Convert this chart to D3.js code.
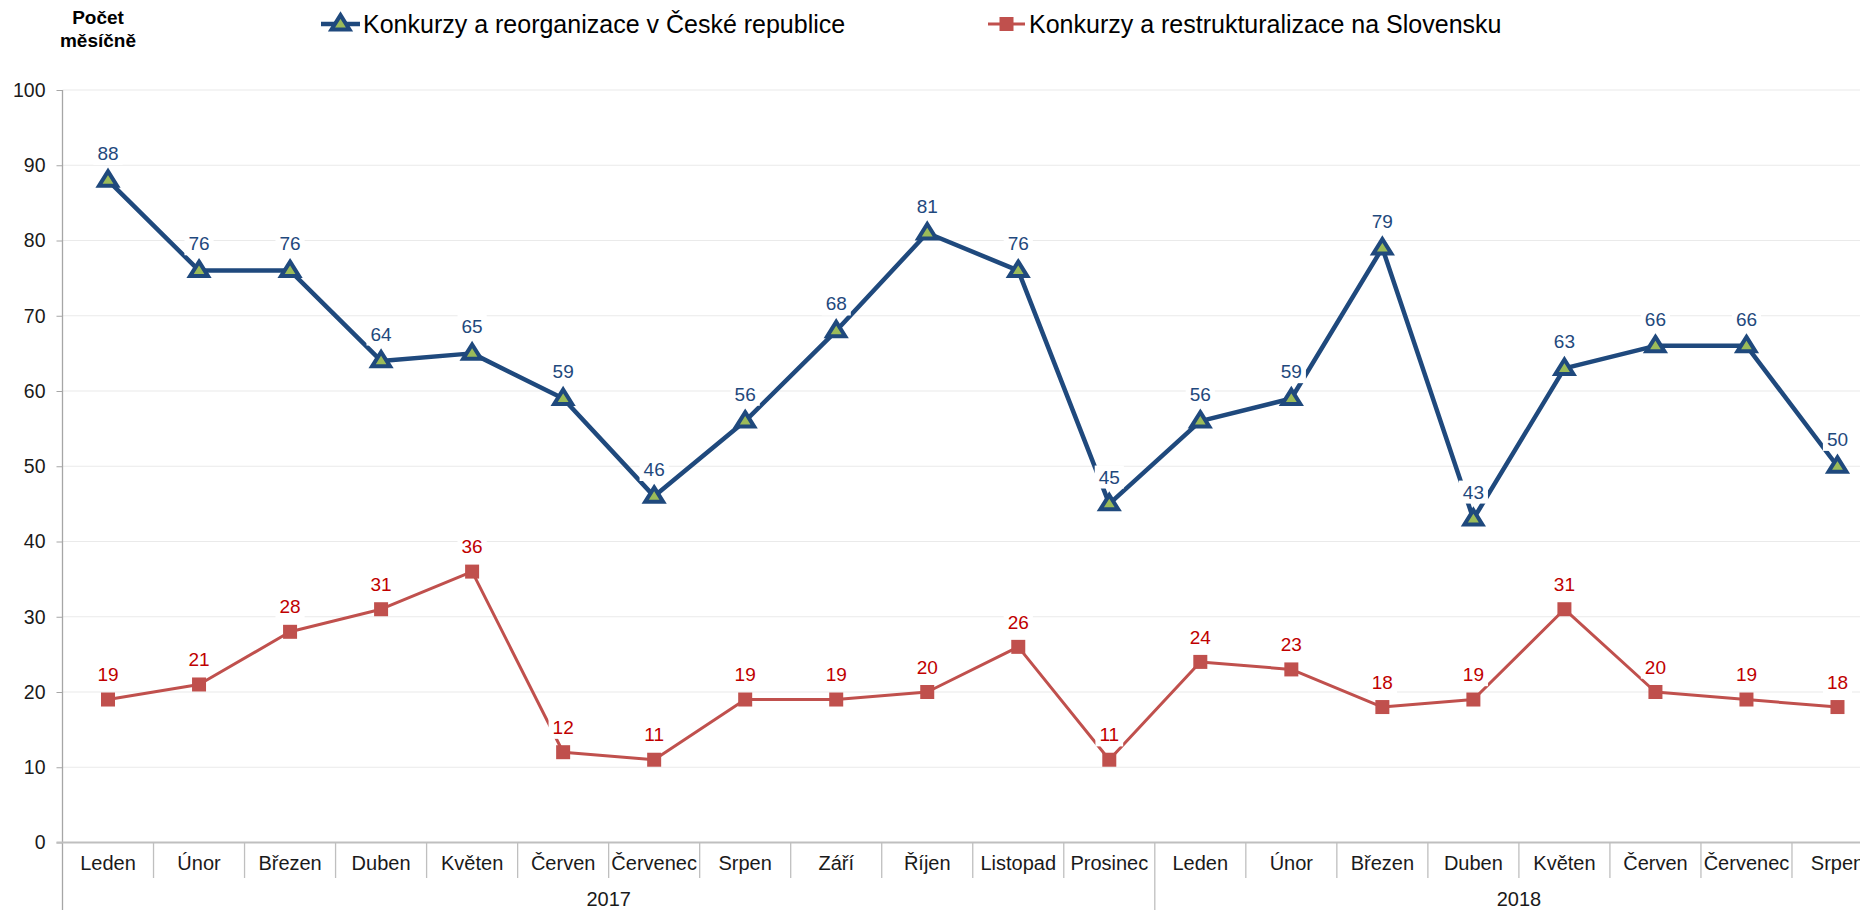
<!DOCTYPE html>
<html>
<head>
<meta charset="utf-8">
<script src="https://cdn.jsdelivr.net/npm/d3@7"></script>
<style>
  html, body { margin: 0; padding: 0; background: #fff; overflow: hidden; }
  svg { display: block; font-family: "Liberation Sans", Arial, sans-serif; }
</style>
</head>
<body>
<svg id="chart" width="1860" height="910"></svg>
<script>
const months = ["Leden","Únor","Březen","Duben","Květen","Červen","Červenec","Srpen","Září","Říjen","Listopad","Prosinec",
                "Leden","Únor","Březen","Duben","Květen","Červen","Červenec","Srpen"];
const years = [{label: "2017", count: 12}, {label: "2018", count: 8}];
const czValues = [88,76,76,64,65,59,46,56,68,81,76,45, 56,59,79,43,63,66,66,50];
const skValues = [19,21,28,31,36,12,11,19,19,20,26,11, 24,23,18,19,31,20,19,18];
const yTicks = [0,10,20,30,40,50,60,70,80,90,100];
const czName = "Konkurzy a reorganizace v České republice";
const skName = "Konkurzy a restrukturalizace na Slovensku";
const yTitle = ["Počet", "měsíčně"];

(function () {
const blue = "#1F497D", green = "#9BBB59", red = "#C0504D", redText = "#C00000";
const svg = d3.select("#chart");
const pLeft = 62.5, pRight = 1883, pTop = 90, pBottom = 842.5;
const idx = months.map((m, i) => i);

const x = d3.scaleBand().domain(idx).range([pLeft, pRight]).padding(0);
const y = d3.scaleLinear().domain([0, 100]).range([pBottom, pTop]);
const cx = i => x(i) + x.bandwidth() / 2;

// gridlines
svg.append("g").selectAll("line").data(yTicks.filter(d => d > 0)).join("line")
  .attr("x1", pLeft).attr("x2", 1860).attr("y1", d => y(d)).attr("y2", d => y(d))
  .attr("stroke", "#EAEAEA").attr("stroke-width", 1.2);

// y axis
const yAxis = d3.axisLeft(y).tickValues(yTicks).tickSize(6).tickPadding(11);
const gy = svg.append("g").attr("transform", `translate(${pLeft},0)`).call(yAxis);
gy.select(".domain").remove();
gy.selectAll(".tick line").attr("stroke", "#A6A6A6");
gy.selectAll(".tick text").attr("font-size", 19.5).attr("fill", "#1a1a1a")
  .attr("font-family", "Liberation Sans, Arial, sans-serif");
svg.append("line").attr("x1", pLeft).attr("x2", pLeft).attr("y1", pTop).attr("y2", 910)
  .attr("stroke", "#A6A6A6").attr("stroke-width", 1.3);

// x axis baseline
svg.append("line").attr("x1", pLeft - 6).attr("x2", 1860).attr("y1", pBottom).attr("y2", pBottom)
  .attr("stroke", "#BFBFBF").attr("stroke-width", 2);

// month labels
const xAxis = d3.axisBottom(x).tickFormat(i => months[i]).tickSize(0).tickPadding(13);
const gx = svg.append("g").attr("transform", `translate(0,${pBottom})`).call(xAxis);
gx.select(".domain").remove();
gx.selectAll(".tick text").attr("font-size", 20).attr("fill", "#1a1a1a")
  .attr("font-family", "Liberation Sans, Arial, sans-serif");

// separators
let yearStarts = [], acc = 0;
years.forEach(yr => { yearStarts.push(acc); acc += yr.count; });
svg.append("g").selectAll("line").data(idx.slice(1)).join("line")
  .attr("x1", i => x(i)).attr("x2", i => x(i))
  .attr("y1", pBottom).attr("y2", i => yearStarts.includes(i) ? 910 : 878)
  .attr("stroke", "#BFBFBF").attr("stroke-width", 1.3);

// year labels
svg.append("g").selectAll("text").data(years).join("text")
  .attr("x", (d, k) => {
    const s = yearStarts[k], e = s + d.count;
    return (x(s) + (e < months.length ? x(e) : pRight)) / 2;
  })
  .attr("y", 906).attr("text-anchor", "middle").attr("font-size", 20).attr("fill", "#1a1a1a")
  .text(d => d.label);

// lines
const lineGen = vals => d3.line().x((d, i) => cx(i)).y(d => y(d))(vals);
svg.append("path").attr("d", lineGen(skValues)).attr("fill", "none")
  .attr("stroke", red).attr("stroke-width", 3).attr("stroke-linejoin", "round");
svg.append("path").attr("d", lineGen(czValues)).attr("fill", "none")
  .attr("stroke", blue).attr("stroke-width", 4.5).attr("stroke-linejoin", "round");

// markers
const tri = (cxp, cyp, s) => {
  const h = s * 0.8;
  return `M${cxp},${cyp - h * 0.62} L${cxp + s / 2},${cyp + h * 0.38} L${cxp - s / 2},${cyp + h * 0.38} Z`;
};
svg.append("g").selectAll("rect").data(skValues).join("rect")
  .attr("x", (d, i) => cx(i) - 7).attr("y", d => y(d) - 7)
  .attr("width", 14).attr("height", 14).attr("fill", red);
svg.append("g").selectAll("path").data(czValues).join("path")
  .attr("d", (d, i) => tri(cx(i), y(d), 18))
  .attr("fill", green).attr("stroke", blue).attr("stroke-width", 4).attr("stroke-linejoin", "miter");

// data labels with white background
function addLabels(vals, dy, color) {
  const g = svg.append("g");
  vals.forEach((v, i) => {
    const lx = cx(i), ly = y(v) - dy;
    const t = g.append("text").attr("x", lx).attr("y", ly).attr("dy", "0.35em")
      .attr("text-anchor", "middle").attr("font-size", 19).attr("fill", color).text(v);
    const b = t.node().getBBox();
    g.insert("rect", () => t.node())
      .attr("x", b.x - 4).attr("y", b.y - 1).attr("width", b.width + 8).attr("height", b.height + 2)
      .attr("fill", "#fff");
  });
}
addLabels(skValues, 25, redText);
addLabels(czValues, 27, blue);

// y title
svg.append("g").selectAll("text").data(yTitle).join("text")
  .attr("x", 98).attr("y", (d, k) => 24 + k * 23).attr("text-anchor", "middle")
  .attr("font-size", 19).attr("font-weight", "bold").attr("fill", "#000").text(d => d);

// legend
const lg = svg.append("g");
lg.append("line").attr("x1", 321).attr("x2", 360).attr("y1", 24).attr("y2", 24)
  .attr("stroke", blue).attr("stroke-width", 4.5);
lg.append("path").attr("d", tri(340.5, 24, 18)).attr("fill", green).attr("stroke", blue).attr("stroke-width", 4);
lg.append("text").attr("x", 363).attr("y", 33).attr("font-size", 25).attr("fill", "#000").text(czName);
lg.append("line").attr("x1", 988).attr("x2", 1025).attr("y1", 24).attr("y2", 24)
  .attr("stroke", red).attr("stroke-width", 3);
lg.append("rect").attr("x", 999.5).attr("y", 17).attr("width", 14).attr("height", 14).attr("fill", red);
lg.append("text").attr("x", 1029).attr("y", 33).attr("font-size", 25).attr("fill", "#000").text(skName);
})();
</script>
</body>
</html>
